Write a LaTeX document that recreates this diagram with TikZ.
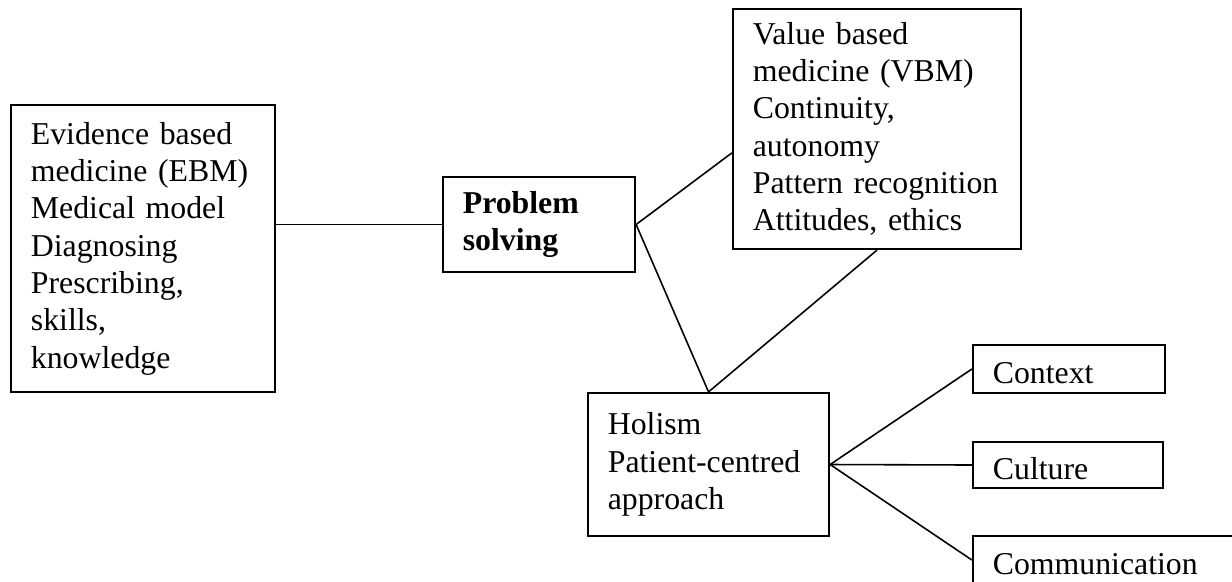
\documentclass[tikz,border=0pt]{standalone}
\usepackage{fontspec}
\setmainfont{Liberation Serif}
\begin{document}
\begin{tikzpicture}[x=0.3774pt,y=-0.3774pt,line width=0.6pt,
    box/.style={draw,line width=0.8pt,inner xsep=7.5pt,inner ysep=0pt,align=left,
      font=\fontsize{12}{14.1}\selectfont},
    tagbox/.style={box,text height=10.6pt,text depth=0pt}]
  \clip (0,0) rectangle (1232,581);
  \node [box,minimum height=108.3pt,text width=84.6pt] (ebm) at (143,248.5)
    {Evidence based\\medicine (EBM)\\Medical model\\Diagnosing\\Prescribing,\\skills,\\knowledge};
  \node [box,minimum height=35.9pt,text width=57.5pt] (ps) at (539,224.5)
    {\textbf{Problem}\\\textbf{solving}};
  \node [box,minimum height=90.6pt,text width=93.7pt] (vbm) at (877,129)
    {Value based\\medicine (VBM)\\Continuity,\\autonomy\\Pattern recognition\\Attitudes, ethics};
  \node [box,minimum height=54pt,text width=76pt] (hol) at (708.5,464.5)
    {Holism\\Patient-centred\\approach};
  \node [tagbox,minimum height=18.1pt,text width=57.5pt] (ctx) at (1069,369) {Context};
  \node [tagbox,minimum height=17.4pt,text width=56.7pt] (cul) at (1068,465) {Culture};
  \node [tagbox,minimum height=18.1pt,text width=85.8pt] (com) at (1106.5,560) {Communication};
  % links
  \draw (ps.west) -- (ps.west -| ebm.east);
  \draw (ps.east) -- ([yshift=-9pt]vbm.west);
  \draw (ps.east) -- (hol.north);
  \draw (vbm.south) -- (hol.north);
  \draw (hol.east) -- (ctx.west);
  \draw (hol.east) -- (cul.west);
  \draw (hol.east) -- (com.west);
\end{tikzpicture}
\end{document}
